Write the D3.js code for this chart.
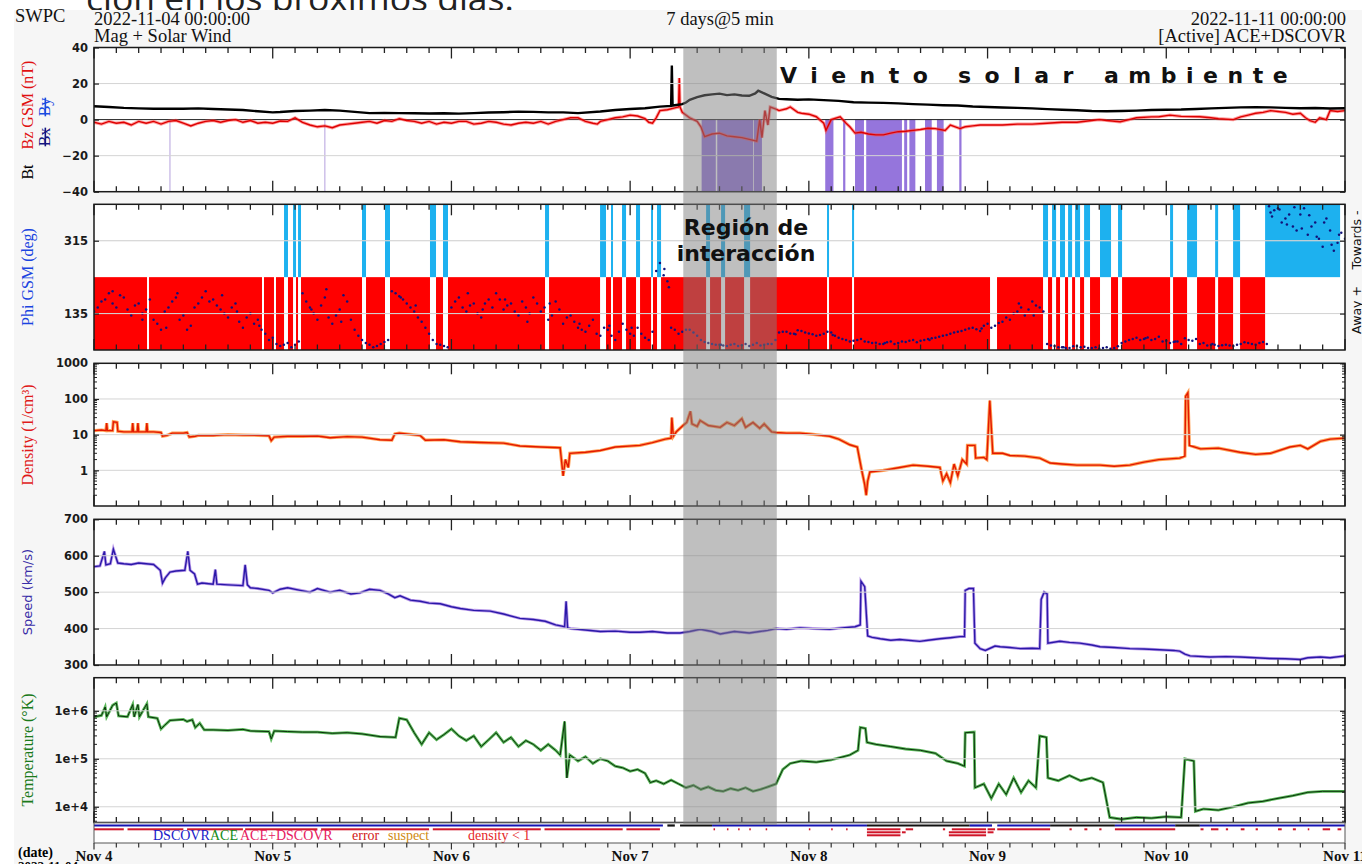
<!DOCTYPE html>
<html>
<head>
<meta charset="utf-8">
<script src="https://cdn.jsdelivr.net/npm/d3@7"></script>
<style>
  body { margin: 0; background: #fff; }
  svg { display: block; }
</style>
</head>
<body>
<svg id="chart" width="1362" height="864"></svg>
<script>
// hours since 2022-11-04 00:00 UTC
const dayLabels = ["Nov 4", "Nov 5", "Nov 6", "Nov 7", "Nov 8", "Nov 9", "Nov 10", "Nov 11"];

const bt = [[0,7.4],[2,7.0],[4,6.5],[6,6.2],[8,6.0],[10,6.1],[12,6.0],[14,6.2],[16,5.9],[18,5.6],[20,5.3],[22,4.6],[24,4.0],[25,4.2],[27,4.8],[29,5.0],[31,5.3],[33,5.0],[35,4.3],[37,3.6],[39,3.7],[41,3.6],[43,3.5],[45,3.4],[47,3.5],[49,3.3],[51,3.6],[53,3.9],[55,4.1],[57,4.4],[59,4.3],[61,4.0],[63,4.0],[65,3.6],[68,4.5],[70,5.3],[72,5.9],[74,6.3],[76,7.2],[77.5,7.6],[77.6,30],[77.7,7.8],[79,8.6],[79.5,9.5],[80,11],[81,12.5],[82,13.5],[83,14],[84,14.4],[85,13.6],[86,14],[87,13.4],[88,13.2],[88.8,14.5],[89.2,16],[90,14.5],[91,12.6],[92,11.5],[93,11.3],[94.5,11.0],[96,11.2],[98,10.8],[100,10.4],[102,9.6],[104,9.4],[106,9.3],[108,9.0],[110,8.6],[112,8.3],[114,8.0],[116,7.8],[118,7.3],[120,7.0],[122,6.7],[124,6.5],[126,6.2],[128,5.8],[130,5.5],[132,5.2],[134,4.8],[136,4.6],[138,4.8],[140,5.0],[142,5.3],[144,5.5],[146,5.6],[148,5.9],[150,6.2],[152,6.5],[154,6.8],[156,6.9],[158,6.8],[160,6.5],[162,6.3],[164,6.4],[166,6.2],[168,6.3]];

const bz = [[0,-1.5],[1,-2.5],[2,-1],[3,-2],[4,-1.5],[5,-3],[6,-1],[7,-2],[8,-1],[9,-2.5],[10,-1],[11,-0.5],[12,-2],[13,-3.5],[14,-2],[15,-1],[16,-0.5],[17,-1.5],[18,-0.5],[19,0],[20,-1.5],[21,-0.5],[22,-2],[23,-1.5],[24,-2],[25,-0.8],[26,-1],[27,1],[28,-1.5],[29,-3],[30,-4],[31,-3.5],[32,-4.5],[33,-3],[34,-2.5],[35,-2],[36,-1.5],[37,-1],[38,-2],[39,-0.5],[40,-1],[41,0.5],[42,-0.5],[43,-1],[44,-2],[45,-1],[46,-2.5],[47,-1.5],[48,-2],[49,-1],[50,-1],[51,-2.5],[52,-2],[53,-1],[54,-1.5],[55,-2.5],[56,-3],[57,-2],[58,-1.5],[59,-2],[60,-1],[61,-2.5],[62,-1],[63,0],[64,1],[65,1],[66,-1],[67,-2],[67.6,-2.5],[68,-1],[69,0],[70,1],[71,1.5],[72,2.5],[73,2],[74,0.5],[74.5,-1.5],[75,-2],[75.5,1],[76,5],[77,5.5],[78,6.5],[78.5,7],[78.6,23],[78.7,7],[79,4],[80,1],[81,-1],[81.5,-4],[82,-9.5],[83,-8],[84,-7.5],[85,-9],[86,-9.5],[87,-10],[88,-11],[89,-12],[89.4,0],[89.7,-10],[90.1,5],[90.5,-3],[90.8,7],[91.5,6],[92,5],[93,6],[93.5,7],[94.5,4],[95,3.5],[96,3],[97,1.6],[98,-2],[98.3,-6],[99,0],[100.2,1.6],[101,-2],[101.5,-4],[102.2,-7.5],[103,-7],[104,-8],[105,-8.5],[106,-8.5],[107,-7.5],[108,-6.7],[109,-6.5],[110,-6],[111,-5.5],[112,-4.8],[113,-5],[114.3,-6],[115,-3],[116.3,-5],[117,-4],[118,-3.5],[119,-3],[120,-3],[122,-3],[124,-2.5],[126,-2.5],[128,-2],[130,-1.5],[132,-1.5],[134,-0.5],[135,0],[136,-0.5],[137.8,-1.2],[139,0],[140,1],[142,1.5],[143,1.6],[144.5,2.5],[146,1.8],[148.5,1.6],[150,1],[151,0.5],[153,0],[154,1.5],[155,2.5],[156,3.5],[157,4],[158,5],[159,4.5],[160,4],[161,3],[162,3.5],[162.7,1],[163.3,-0.6],[164,-1.5],[164.6,1],[165.5,0],[166,5],[167,4.5],[168,5]];

// southward Bz shading intervals [start, end] (hours)
const bzSouth = [[81.6,83.5],[83.7,88.5],[88.6,89.7],[98.2,99.3],[100.6,100.9],[102.2,103.4],[103.7,108.5],[108.8,109.2],[109.5,110.3],[111.6,112.5],[113.2,114.1],[116.2,116.5]];
const bzSouthFaint = [10.2, 31.0];

// IMF sector intervals (hours)
const sectorAway = [[0,7.12],[7.39,22.56],[22.83,24.17],[24.44,25.52],[26.05,26.73],[27.13,27.4],[27.8,35.99],[36.53,39.08],[39.75,45.12],[45.93,46.87],[47.54,60.57],[61.11,67.96],[68.76,69.43],[69.7,70.91],[71.45,72.79],[73.33,74.81],[75.07,75.61],[76.15,82.2],[82.73,84.21],[84.75,87.3],[88.11,98.44],[98.71,101.8],[102.07,120.33],[121.27,127.45],[128.12,128.66],[129.2,129.73],[130.4,130.81],[131.35,131.75],[132.42,132.96],[133.76,135.1],[136.58,137.52],[138.06,144.51],[144.91,146.79],[148.13,150.56],[150.96,152.97],[153.91,157.27]];
const sectorTowards = [[25.52,26.05],[26.73,27.13],[27.4,27.8],[35.99,36.53],[39.08,39.75],[45.12,45.93],[46.87,47.54],[60.57,61.11],[67.96,68.76],[69.43,69.7],[70.91,71.45],[72.79,73.33],[74.81,75.07],[75.61,76.15],[82.2,82.73],[84.21,84.75],[87.3,88.11],[98.44,98.71],[101.8,102.07],[127.45,128.12],[128.66,129.2],[129.73,130.4],[130.81,131.35],[131.75,132.42],[132.96,133.76],[135.1,136.58],[137.52,138.06],[144.51,144.91],[146.79,148.13],[150.56,150.96],[152.97,153.91],[157.27,167.34]];

// Phi GSM (deg): on the hour (h = 0..168) and on the half hour (h = 0.5..167.5)
const phi = [140,165,185,150,175,130,160,145, 120,95,150,175,130,105,160,190, 170,145,125,160,100,135,120,85, 75,55,62,58, 185,150,120,175,110,145,165,95, 70,58,55,65, 190,178,160,140,115,85,60,55, 150,175,140,160,125,170,185,145,160,130,150,175,140,120,165,110, 130,100,90,120,80,95,70,110,85,100,75,90,260,215,95,90, 95,80,65,60,58,55,60,57,55,62,58,60, 88,90,85,92,86,80,85,88,75,70,68,72, 65,63,60,66,62,65,70,68,72,75,80,85, 90,95,100,92,110,105,115,120,140,130,165,150, 60,55,52,50,55,53,50,48,52,50,62,70, 75,72,70,78,68,65,60,70,72,62,58,55, 58,55,60,62,58,65, 385,395,370,350,380,330,360,300,340,310,320];
const phiHalf = [150,170,160,180,145,155,135,170, 110,140,165,120,95,150,175,165, 155,135,150,115,125,110,95,70, 60,58,52,66, 165,135,155,125,130,180,120,80, 62,52,60,70, 185,170,150,125,100,70,58,52, 165,150,155,135,160,150,170,155,140,165,135,160,150,130,145,125, 115,95,105,85,100,80,90,95,80,85,70,240,230,100,85,95, 88,70,62,58,56,58,55,60,58,56,60,70, 90,86,94,88,84,82,90,80,72,66,70,66, 62,60,64,60,66,68,64,70,74,78,82,88, 92,98,96,105,100,112,125,135,150,145,155,140, 56,52,50,54,52,50,52,50,48,54,66,72, 70,76,72,66,62,66,74,68,60,56,58,57, 56,58,64,60,62,60, 390,360,380,340,395,350,320,370,290,335];
const phiExtra = [[2.5,190],[6.5,120],[9.7,100],[11.2,185],[17.2,180],[19.2,140],[22.2,105],[29.2,145],[31.2,195],[33.2,115],[41.2,175],[43.2,155],[50.2,185],[52.2,145],[55.2,170],[58.2,115],[61.2,160],[65.2,110],[69.2,105],[72.2,100],[76.6,245],[77.2,200],[84.2,58],[94.2,84],[99.2,82],[106.2,62],[112.2,70],[119.2,98],[124.2,160],[126.2,130],[130.2,52],[141.2,74],[145.2,66],[150.2,60],[157.8,400],[158.2,375],[159.2,392],[160.2,355],[161.2,398],[162.2,345],[163.2,378],[164.2,325],[165.2,360],[166.2,305],[167.2,330]];

const density = [[0,13],[1,13.5],[1.6,13],[1.7,21],[1.8,13],[2.5,13],[2.6,23],[3.1,22],[3.2,12.5],[4,12],[5.1,12],[5.2,21],[5.3,12],[5.8,12],[5.9,21],[6,12],[7,12],[7.1,21],[7.2,12],[8,12],[9,11.5],[9.2,9],[9.8,9.5],[10.5,11],[12,11],[12.5,11.5],[12.8,8.6],[13.6,9],[14,9.5],[16,9.5],[18,10],[20,9.7],[22,9.6],[23.5,9.3],[23.8,6.8],[24.2,8.5],[26,9],[28,9],[30,9.2],[31.7,8.2],[34,8.8],[36,8.5],[38.4,7.2],[40,7],[40.4,10.5],[41,11],[43.8,9.5],[44.5,7],[47,7.2],[49.2,6.3],[52,6],[55,5.8],[57.2,4.8],[60,4.5],[62.6,4.3],[63,0.7],[63.3,2],[63.7,1.2],[63.9,3],[66,3.2],[68,3.6],[70,4.5],[73.3,5],[75,6],[76.7,7.5],[77.5,8],[77.6,30],[77.8,9],[78.2,12],[79.1,18],[79.6,22],[80.1,45],[80.3,20],[81,17],[81.4,25],[82.5,18],[84.1,16],[85,22],[86,18],[87,28],[87.5,16],[88.5,22],[89.4,15],[90,20],[91,12],[91.6,11.5],[93,11],[94.8,11],[96,10.5],[98.8,9],[100,7.5],[101.5,5.2],[102.5,4.5],[103.1,1],[103.5,0.4],[103.7,0.2],[103.9,0.5],[104.2,0.9],[106,1],[108.2,1.2],[110,1.4],[112,1.3],[113.6,1.2],[114,0.5],[114.5,0.8],[115,0.45],[115.5,1.5],[116,0.7],[116.6,2],[117.2,1.5],[117.3,5],[118.3,5],[118.4,2.2],[119.5,2.3],[119.9,2],[120.3,90],[120.7,3],[122,3],[123,2.6],[125,2.5],[127,2.2],[128.4,1.6],[130,1.5],[132,1.4],[135.1,1.4],[137,1.3],[139.1,1.4],[141,1.7],[143,2],[145.8,2.2],[146.5,2.5],[146.6,120],[146.9,150],[147.1,5],[148.6,4],[151,4.2],[153.9,3.2],[156,2.8],[158,3],[160.6,4.5],[162,5],[163,4],[164.7,6.5],[166,7.5],[168,8]];

const speed = [[0,570],[0.8,572],[1.4,612],[1.6,575],[2.2,578],[2.6,618],[3.2,580],[4,578],[5,576],[6,580],[7,578],[8,576],[8.9,560],[9.2,525],[9.6,540],[10.2,555],[11,558],[12.2,560],[12.6,612],[12.9,560],[13.5,550],[13.9,522],[14.5,525],[16,522],[16.3,562],[16.5,522],[18,520],[20,518],[20.3,575],[20.6,520],[21,512],[22,510],[23.5,505],[24,498],[25,508],[26,512],[27.7,505],[29,500],[30,510],[31.7,500],[33,505],[34.5,495],[35.7,498],[37,508],[38.4,505],[39.5,495],[40.4,485],[41.1,490],[42.5,478],[43.8,475],[45,470],[46.5,468],[48,460],[49.2,455],[51,450],[53.2,448],[55,440],[57.2,428],[59,425],[60.6,420],[62,410],[63.2,405],[63.4,475],[63.6,402],[64,400],[66,396],[68,392],[70,393],[72,390],[73.3,390],[75,392],[77,388],[78.7,388],[80,392],[81.4,398],[83,392],[84.1,385],[86,392],[88,388],[89.4,392],[90.5,395],[91.6,400],[93,398],[94.8,402],[96.5,400],[98.8,398],[100.5,402],[102.2,405],[102.9,410],[103.0,530],[103.5,515],[103.9,380],[104.5,376],[105.6,372],[107,368],[108.2,370],[110.9,365],[112,368],[113.6,372],[115,375],[116.3,378],[116.9,378],[117.0,505],[117.5,510],[118.1,510],[118.3,360],[119,345],[119.7,340],[121,352],[121.7,350],[123,348],[124.4,345],[126,346],[127,345],[127.2,480],[127.6,500],[128,495],[128.1,360],[129.7,365],[131,362],[132.4,360],[134,355],[135.1,350],[137,348],[139.1,345],[141,344],[143.1,342],[145,340],[145.8,338],[146.5,330],[147.2,325],[149.9,322],[152,323],[153.9,322],[156,320],[157.9,318],[160,317],[162,315],[163,320],[164.7,322],[166,320],[168,325]];

const temperature = [[0,7.5e5],[1,8e5],[1.5,1.2e6],[1.7,7.5e5],[2.5,1.3e6],[3.0,1.45e6],[3.3,7.8e5],[4.5,7.5e5],[5.2,1.35e6],[5.4,7.5e5],[5.9,1.35e6],[6.1,7.5e5],[7.1,1.4e6],[7.3,7.5e5],[8.5,7e5],[9.0,4.2e5],[9.5,5e5],[10.2,6.3e5],[12,6.6e5],[12.5,6e5],[13.2,6.5e5],[13.6,4.5e5],[14.2,5.5e5],[14.8,4e5],[16,4e5],[18,3.9e5],[20,4.1e5],[21,3.8e5],[23.5,3.7e5],[23.8,2.6e5],[24.2,3.8e5],[26,3.7e5],[28,3.6e5],[30,3.6e5],[32,3.4e5],[34,3.5e5],[36,3.3e5],[38.4,2.9e5],[40.5,2.8e5],[41,7e5],[42,6.5e5],[43,3.5e5],[44,2e5],[45,3.5e5],[46,2.5e5],[47,3.2e5],[48,4.2e5],[49,3e5],[50,2.4e5],[51,3e5],[52,1.8e5],[53,2.5e5],[54,3.5e5],[55,2.2e5],[56,2.8e5],[57,1.8e5],[58,2.4e5],[59,2e5],[60,1.5e5],[61,2e5],[62,1.5e5],[62.6,1.2e5],[63.2,6e5],[63.5,4e4],[63.9,1.2e5],[65,9e4],[66,1.1e5],[67,8e4],[68,1e5],[69,9e4],[70,7e4],[71,6.5e4],[72,5.5e4],[73,6e4],[74,5e4],[74.7,3.2e4],[75.5,3.5e4],[76.5,3e4],[77.5,3.6e4],[78.5,3e4],[79.5,2.5e4],[80.5,2.8e4],[81.5,2.3e4],[82.5,2.6e4],[83.5,2.2e4],[84.5,2.1e4],[85.5,2.4e4],[86.5,2.2e4],[87.5,2.5e4],[88.5,2.1e4],[89.5,2.3e4],[90.5,2.6e4],[91.6,3e4],[92.5,6e4],[93.5,8e4],[95,9e4],[97,8.5e4],[99,9.5e4],[101.5,1.2e5],[102.6,1.5e5],[102.9,4.5e5],[103.6,4.3e5],[103.8,2.2e5],[105,2e5],[107,1.8e5],[109,1.6e5],[111,1.5e5],[113,1.3e5],[114.5,9e4],[116,8e4],[116.9,7e4],[117.0,3.5e5],[118.2,3.6e5],[118.3,2.5e4],[119.5,3e4],[120.5,1.5e4],[121.5,3e4],[122.5,1.8e4],[123.5,4e4],[124.5,2e4],[125.5,3.5e4],[126.5,2.5e4],[127,3e5],[127.9,2.8e5],[128.1,4e4],[129.5,3.5e4],[131,4.5e4],[132.5,3.5e4],[134,4e4],[135.5,3.2e4],[136.4,6e3],[138,5.5e3],[140,6e3],[142,5.8e3],[144,6.2e3],[146,6e3],[146.5,1e5],[147.7,9e4],[147.9,8e3],[149,9e3],[151,8.5e3],[153,1e4],[155,1.2e4],[157,1.3e4],[159,1.5e4],[161,1.7e4],[163,2e4],[165,2.1e4],[168,2.1e4]];

// source strip: [start, end, spacecraft]
const sourceSegments = [[0,76.4,"DSCOVR"],[77,78,"none"],[78.7,83,"none"],[83,103.8,"DSCOVR"],[103.8,117.6,"none"],[117.6,120.6,"DSCOVR"],[121.3,128.4,"DSCOVR"],[128.4,137.1,"none"],[137.1,145.2,"DSCOVR"],[145.2,148.5,"none"],[148.5,168,"DSCOVR"]];
const errorFlags = [[0,4],[4.5,12],[12.5,20],[20.3,30],[30.5,45],[45.5,60],[60.5,71],[71.5,76],[83.2,83.4],[85,85.2],[86.5,86.7],[88,88.2],[90.2,90.4],[96,96.2],[99,99.2],[101,101.2],[103.8,108.3],[109,110],[114,114.3],[115.2,119.8],[120,121],[121.3,128.4],[131,131.3],[133,133.4],[135,135.3],[137.1,145.2],[148.6,149],[150,151],[152,152.3],[154,154.5],[156,156.3],[159,159.5],[161,161.4],[163,163.2],[165,166],[167,167.5]];
const lowDensityFlags = [[103.8,108.3],[108.5,109],[114.8,119.8],[120,120.8]];

const legendItems = [["DSCOVR", "#1a1ac8", 153], ["ACE", "#168a16", 210], ["ACE+DSCOVR", "#e6205f", 240], ["error", "#d21818", 352], ["suspect", "#d08a10", 388], ["density < 1", "#e52727", 468]];

const interaction = [79.14, 91.69];

// ---------------------------------------------------------------
const serif = "'Liberation Serif', 'DejaVu Serif', serif";
const sans = "'DejaVu Sans', sans-serif";

const svg = d3.select("#chart");
const X0 = 94, X1 = 1345;
const x = d3.scaleLinear().domain([0, 168]).range([X0, X1]);
const line = (xs, ys) => d3.line().x(d => xs(d[0])).y(d => ys(d[1]));

// slide text above the plot: only its lower edge shows
const slide = svg.append("svg").attr("x", 0).attr("y", 0).attr("width", 1362).attr("height", 10).attr("overflow", "hidden");
slide.append("text").attr("x", 86).attr("y", 11)
  .style("font-family", "'Open Sans', 'Noto Sans', sans-serif").style("font-size", "35.5px").style("fill", "#222")
  .text("ción en los próximos días.");

svg.append("rect").attr("x", 14).attr("y", 10).attr("width", 1348).attr("height", 854).attr("fill", "#f6f6f6");

const panels = {
  mag:  {top: 47.5, bottom: 191.7},
  phi:  {top: 204.3, bottom: 350},
  dens: {top: 363.3, bottom: 506},
  spd:  {top: 519.3, bottom: 665},
  temp: {top: 677.7, bottom: 822.5}
};

const yMag = d3.scaleLinear().domain([-40, 40]).range([panels.mag.bottom, panels.mag.top]);
const yPhi = d3.scaleLinear().domain([45, 405]).range([panels.phi.bottom, panels.phi.top]);
const yDens = d3.scaleLog().domain([0.1, 1000]).range([panels.dens.bottom, panels.dens.top]);
const ySpd = d3.scaleLinear().domain([300, 700]).range([panels.spd.bottom, panels.spd.top]);
const yTemp = d3.scaleLog().domain([4.7e3, 4.9e6]).range([panels.temp.bottom, panels.temp.top]);

Object.entries(panels).forEach(([k, p]) => {
  svg.append("rect").attr("x", X0).attr("y", p.top).attr("width", X1 - X0).attr("height", p.bottom - p.top).attr("fill", "#fff");
  svg.append("clipPath").attr("id", "clip-" + k).append("rect")
    .attr("x", X0).attr("y", p.top).attr("width", X1 - X0).attr("height", p.bottom - p.top);
});
// source strip
svg.append("rect").attr("x", X0).attr("y", 822.5).attr("width", X1 - X0).attr("height", 20.5).attr("fill", "#fff");

function gridY(y, vals) {
  svg.append("g").selectAll("line").data(vals).join("line")
    .attr("x1", X0).attr("x2", X1).attr("y1", d => y(d)).attr("y2", d => y(d))
    .attr("stroke", "#d4d4d4").attr("stroke-width", 1);
}

// ---- panel 1: magnetic field
const g1 = svg.append("g").attr("clip-path", "url(#clip-mag)");
gridY(yMag, [20, -20]);
g1.selectAll("rect.south").data(bzSouth).join("rect").attr("class", "south")
  .attr("x", d => x(d[0])).attr("width", d => x(d[1]) - x(d[0]))
  .attr("y", yMag(0)).attr("height", yMag(-40) - yMag(0))
  .attr("fill", "#8a66d8").attr("opacity", 0.9);
g1.selectAll("line.faint").data(bzSouthFaint).join("line").attr("class", "faint")
  .attr("x1", d => x(d)).attr("x2", d => x(d)).attr("y1", yMag(0)).attr("y2", yMag(-40))
  .attr("stroke", "#a890d8").attr("stroke-width", 1.2).attr("opacity", 0.7);
g1.append("line").attr("x1", X0).attr("x2", X1).attr("y1", yMag(0)).attr("y2", yMag(0)).attr("stroke", "#222").attr("stroke-width", 1);
g1.append("path").datum(bz).attr("d", line(x, yMag)).attr("fill", "none").attr("stroke", "#ff4a4a").attr("stroke-width", 3.2).attr("opacity", 0.55);
g1.append("path").datum(bz).attr("d", line(x, yMag)).attr("fill", "none").attr("stroke", "#dd0000").attr("stroke-width", 1.4);
g1.append("path").datum(bt).attr("d", line(x, yMag)).attr("fill", "none").attr("stroke", "#000").attr("stroke-width", 2.4);

// ---- panel 2: phi
const g2 = svg.append("g").attr("clip-path", "url(#clip-phi)");
gridY(yPhi, [315, 135]);
g2.selectAll("rect.away").data(sectorAway).join("rect").attr("class", "away")
  .attr("x", d => x(d[0])).attr("width", d => Math.max(1, x(d[1]) - x(d[0])))
  .attr("y", yPhi(225)).attr("height", yPhi(45) - yPhi(225)).attr("fill", "#ff0000");
g2.selectAll("rect.tow").data(sectorTowards).join("rect").attr("class", "tow")
  .attr("x", d => x(d[0])).attr("width", d => Math.max(1, x(d[1]) - x(d[0])))
  .attr("y", yPhi(405)).attr("height", yPhi(225) - yPhi(405)).attr("fill", "#1db1ef");
g2.append("g").selectAll("line").data([315, 135]).join("line")
  .attr("x1", X0).attr("x2", X1).attr("y1", d => yPhi(d)).attr("y2", d => yPhi(d))
  .attr("stroke", "#d4d4d4").attr("stroke-opacity", 0.5);
const phiPts = phi.map((v, i) => [i, v])
  .concat(phiHalf.map((v, i) => [i + 0.5, v]))
  .concat(phiExtra);
g2.selectAll("circle").data(phiPts).join("circle")
  .attr("cx", d => x(d[0])).attr("cy", d => yPhi(d[1])).attr("r", 1.25).attr("fill", "#12127a");

// ---- panel 3: density
const g3 = svg.append("g").attr("clip-path", "url(#clip-dens)");
gridY(yDens, [100, 10, 1]);
g3.append("path").datum(density).attr("d", line(x, yDens)).attr("fill", "none").attr("stroke", "#ff7f1a").attr("stroke-width", 3.2).attr("opacity", 0.75);
g3.append("path").datum(density).attr("d", line(x, yDens)).attr("fill", "none").attr("stroke", "#e31800").attr("stroke-width", 1.4);

// ---- panel 4: speed
const g4 = svg.append("g").attr("clip-path", "url(#clip-spd)");
gridY(ySpd, [600, 500, 400]);
g4.append("path").datum(speed).attr("d", line(x, ySpd)).attr("fill", "none").attr("stroke", "#9a6ee0").attr("stroke-width", 3).attr("opacity", 0.7);
g4.append("path").datum(speed).attr("d", line(x, ySpd)).attr("fill", "none").attr("stroke", "#2a18a8").attr("stroke-width", 1.4);

// ---- panel 5: temperature
const g5 = svg.append("g").attr("clip-path", "url(#clip-temp)");
gridY(yTemp, [1e6, 1e5, 1e4]);
g5.append("path").datum(temperature).attr("d", line(x, yTemp)).attr("fill", "none").attr("stroke", "#2fa52f").attr("stroke-width", 2.8).attr("opacity", 0.8);
g5.append("path").datum(temperature).attr("d", line(x, yTemp)).attr("fill", "none").attr("stroke", "#0b300b").attr("stroke-width", 1);

// ---- source strip
const srcColor = {DSCOVR: "#1414b4", ACE: "#168a16", none: "#111"};
svg.append("g").selectAll("line").data(sourceSegments).join("line")
  .attr("x1", d => x(d[0])).attr("x2", d => x(d[1])).attr("y1", 825.5).attr("y2", 825.5)
  .attr("stroke", d => srcColor[d[2]]).attr("stroke-width", 2.2);
svg.append("g").selectAll("rect").data(errorFlags).join("rect")
  .attr("x", d => x(d[0])).attr("width", d => Math.max(1.5, x(d[1]) - x(d[0])))
  .attr("y", 828.3).attr("height", 2).attr("fill", "#d01528");
svg.append("g").selectAll("rect").data(lowDensityFlags.concat(lowDensityFlags.filter(d => d[1] - d[0] > 1))).join("rect")
  .attr("x", d => x(d[0])).attr("width", d => x(d[1]) - x(d[0]))
  .attr("y", (d, i) => i < lowDensityFlags.length ? 831.3 : 834.3).attr("height", 2).attr("fill", "#d01528");
svg.append("g").selectAll("text").data(legendItems).join("text")
  .attr("x", d => d[2]).attr("y", 840)
  .style("font-family", serif).style("font-size", "14px").style("fill", d => d[1])
  .text(d => d[0]);

// ---- frames and ticks
const dayTicks = d3.range(0, 169, 24);
const minorTicks = d3.range(0, 169, 3).filter(h => h % 24 !== 0);
function timeTicks(yTop, yBot) {
  const g = svg.append("g").attr("stroke", "#222").attr("stroke-width", 1.3);
  g.selectAll("line.mt").data(minorTicks).join("line").attr("class", "mt")
    .attr("x1", d => x(d)).attr("x2", d => x(d)).attr("y1", yTop).attr("y2", yTop + 5.5);
  g.selectAll("line.mb").data(minorTicks).join("line").attr("class", "mb")
    .attr("x1", d => x(d)).attr("x2", d => x(d)).attr("y1", yBot).attr("y2", yBot - 5.5);
  g.selectAll("line.Mt").data(dayTicks).join("line").attr("class", "Mt")
    .attr("x1", d => x(d)).attr("x2", d => x(d)).attr("y1", yTop).attr("y2", yTop + 11);
  g.selectAll("line.Mb").data(dayTicks).join("line").attr("class", "Mb")
    .attr("x1", d => x(d)).attr("x2", d => x(d)).attr("y1", yBot).attr("y2", yBot - 11);
}

function yAxes(y, vals, fmt, minor) {
  const left = svg.append("g").attr("transform", `translate(${X0},0)`)
    .call(d3.axisLeft(y).tickValues(vals).tickFormat(fmt).tickSize(-5).tickPadding(6));
  const right = svg.append("g").attr("transform", `translate(${X1},0)`)
    .call(d3.axisRight(y).tickValues(vals).tickFormat("").tickSize(-5));
  [left, right].forEach(a => {
    a.select(".domain").remove();
    a.selectAll("line").attr("stroke", "#222").attr("stroke-width", 1.2);
  });
  left.selectAll("text").style("font-family", sans).style("font-weight", "bold").style("font-size", "11.5px").style("fill", "#1a1a1a");
  if (minor) {
    [[X0, 1], [X1, -1]].forEach(([px, dir]) => {
      svg.append("g").selectAll("line").data(minor).join("line")
        .attr("x1", px).attr("x2", px + dir * 3).attr("y1", d => y(d)).attr("y2", d => y(d))
        .attr("stroke", "#222").attr("stroke-width", 1);
    });
  }
}
const logMinor = (lo, hi) => {
  const out = [];
  for (let e = lo; e < hi; e++) for (let m = 2; m <= 9; m++) out.push(m * Math.pow(10, e));
  return out;
};

yAxes(yMag, [40, 20, 0, -20, -40], d3.format("d"));
yAxes(yPhi, [315, 135], d3.format("d"));
yAxes(yDens, [1000, 100, 10, 1], d3.format("d"), logMinor(-1, 3));
yAxes(ySpd, [700, 600, 500, 400, 300], d3.format("d"));
yAxes(yTemp, [1e6, 1e5, 1e4], d => "1e+" + Math.round(Math.log10(d)), logMinor(3, 6).filter(v => v >= 4.7e3 && v <= 4.9e6));

Object.values(panels).forEach(p => {
  timeTicks(p.top, p.bottom);
  svg.append("rect").attr("x", X0).attr("y", p.top).attr("width", X1 - X0).attr("height", p.bottom - p.top)
    .attr("fill", "none").attr("stroke", "#1a1a1a").attr("stroke-width", 1.5);
});
svg.append("rect").attr("x", X0).attr("y", 822.5).attr("width", X1 - X0).attr("height", 20.5)
  .attr("fill", "none").attr("stroke", "#555").attr("stroke-width", 1);

// date axis below strip
const dateAxis = svg.append("g").attr("stroke", "#333").attr("stroke-width", 1.2);
dateAxis.selectAll("line.m").data(minorTicks).join("line").attr("class", "m")
  .attr("x1", d => x(d)).attr("x2", d => x(d)).attr("y1", 843).attr("y2", 847.5);
dateAxis.selectAll("line.M").data(dayTicks).join("line").attr("class", "M")
  .attr("x1", d => x(d)).attr("x2", d => x(d)).attr("y1", 843).attr("y2", 849.5);
svg.append("g").selectAll("text").data(dayTicks).join("text")
  .attr("x", d => x(d)).attr("y", 861).attr("text-anchor", "middle")
  .style("font-family", serif).style("font-weight", "bold").style("font-size", "15px").style("fill", "#111")
  .text((d, i) => dayLabels[i]);
svg.append("text").attr("x", 18).attr("y", 857).style("font-family", serif).style("font-weight", "bold").style("font-size", "14px").text("(date)");
svg.append("text").attr("x", 18).attr("y", 870).style("font-family", serif).style("font-weight", "bold").style("font-size", "13px").text("2022-11-04");

// ---- interaction region shading
svg.append("rect").attr("x", x(interaction[0])).attr("width", x(interaction[1]) - x(interaction[0]))
  .attr("y", 47.5).attr("height", 825 - 47.5).attr("fill", "#808080").attr("opacity", 0.5);

// ---- header
const hdr = (t, xx, yy, anchor) => svg.append("text").attr("x", xx).attr("y", yy).attr("text-anchor", anchor || "start")
  .style("font-family", serif).style("font-size", "18.5px").style("fill", "#111").text(t);
hdr("SWPC", 15, 22);
hdr("2022-11-04 00:00:00", X0, 25);
hdr("Mag + Solar Wind", X0, 41.5);
hdr("7 days@5 min", 720, 25, "middle");
hdr("2022-11-11 00:00:00", X1 + 1, 25, "end");
hdr("[Active] ACE+DSCOVR", X1 + 1, 41.5, "end");

// ---- y-axis titles
function vlabel(t, cx, cy, color, opts = {}) {
  const el = svg.append("text").attr("transform", `translate(${cx},${cy}) rotate(-90)`).attr("text-anchor", "middle")
    .style("font-family", opts.font || serif).style("font-size", (opts.size || 16) + "px").style("fill", color);
  if (opts.strike) el.style("text-decoration", "line-through");
  el.text(t);
  return el;
}
vlabel("Bt", 33, 172, "#000");
vlabel("Bz GSM (nT)", 33, 105, "#e01010");
vlabel("Bx", 50, 137, "#141480", {strike: true});
vlabel("By", 50, 107, "#1a4be0", {strike: true});
vlabel("Phi GSM (deg)", 33, 277, "#1a44e0");
vlabel("Density (1/cm³)", 33, 435, "#e01a1a");
vlabel("Speed (km/s)", 32, 592, "#3a2ea8", {font: sans, size: 13});
vlabel("Temperature (°K)", 33, 750, "#1a7a1a");
vlabel("Towards -", 1361, 240, "#111", {font: sans, size: 12.5});
vlabel("Away +", 1361, 310, "#111", {font: sans, size: 12.5});

// ---- annotations
const ann = svg.append("g").style("font-family", sans).style("font-weight", "bold").style("fill", "#111");
ann.append("text").attr("x", 780).attr("y", 83).style("font-size", "22px").style("letter-spacing", "13.5px").text("Viento");
ann.append("text").attr("x", 958).attr("y", 83).style("font-size", "22px").style("letter-spacing", "13.5px").text("solar");
ann.append("text").attr("x", 1104).attr("y", 83).style("font-size", "22px").style("letter-spacing", "9.5px").text("ambiente");
ann.append("text").attr("x", 746).attr("y", 235).attr("text-anchor", "middle").style("font-size", "22px").text("Región de");
ann.append("text").attr("x", 746).attr("y", 261).attr("text-anchor", "middle").style("font-size", "22px").text("interacción");
</script>
</body>
</html>
